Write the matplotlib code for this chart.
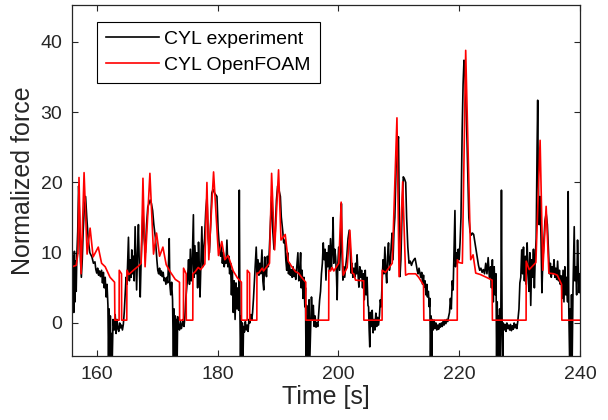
import matplotlib
matplotlib.use("Agg")
import matplotlib.pyplot as plt

plt.rcParams['font.family'] = ['Liberation Sans', 'DejaVu Sans']

# OpenFOAM simulation (red) - breakpoints
sim_t = [155.9, 156.6, 156.9, 157.06, 157.4, 157.9, 158.4, 158.9, 159.4, 160.25,
         160.8, 161.4, 162.2, 162.95, 163.0, 163.7, 163.72, 164.1, 164.12, 164.97,
         165.0, 165.3, 166.2, 166.9, 167.35, 167.65, 168.0, 168.8, 169.4, 169.9,
         170.4, 170.95, 171.5, 172.15, 173.0, 173.7, 173.72, 174.35, 174.37, 174.8,
         174.82, 175.9, 175.92, 176.3, 176.8, 177.2, 177.9, 178.24, 178.55, 179.34,
         180.15, 180.7, 181.2, 181.75, 182.6, 183.3, 183.95, 183.97, 184.9, 184.92,
         185.3, 185.32, 186.5, 186.52, 186.8, 187.4, 187.6, 188.6, 188.95, 189.45,
         190.1, 190.5, 191.2, 191.7, 192.3, 192.9, 193.4, 194.0, 194.6, 194.62,
         198.4, 198.42, 198.7, 198.97, 199.24, 200.07, 200.46, 200.8, 201.46, 201.9,
         202.3, 202.55, 202.84, 204.2, 204.22, 207.24, 207.26, 207.8, 208.92, 209.7,
         210.05, 210.65, 211.13, 211.6, 212.8, 213.3, 214.1, 214.15, 219.68, 219.7,
         219.97, 220.53, 221.08, 221.91, 222.3, 222.74, 223.5, 224.5, 225.45, 225.5,
         231.08, 231.1, 231.6, 232.7, 233.4, 233.85, 234.4, 234.85, 235.7, 236.25,
         236.95, 237.0, 240.0]
sim_f = [8.0, 8.2, 10.0, 20.7, 7.0, 21.4, 9.8, 13.5, 9.4, 10.8,
         8.5, 8.0, 6.5, 5.8, 0.4, 0.4, 7.5, 7.0, 0.4, 0.4,
         7.5, 6.9, 7.6, 8.1, 8.5, 20.6, 8.0, 21.3, 9.8, 12.8,
         9.5, 10.8, 8.3, 7.3, 6.2, 5.8, 0.4, 0.4, 7.8, 7.0,
         0.4, 0.4, 7.0, 7.3, 7.9, 7.6, 8.4, 20.0, 9.0, 21.5,
         9.6, 11.6, 9.0, 9.6, 7.4, 6.4, 5.8, 0.4, 0.4, 7.5,
         7.1, 0.4, 0.4, 7.1, 7.1, 7.8, 7.4, 8.5, 21.3, 10.4,
         21.8, 11.8, 12.6, 8.8, 8.0, 7.3, 7.1, 6.4, 5.8, 0.4,
         0.4, 7.5, 7.4, 7.9, 7.4, 8.5, 17.2, 6.8, 7.9, 13.2,
         7.1, 7.0, 6.1, 6.0, 0.4, 0.4, 7.5, 7.2, 8.5, 29.2,
         6.6, 20.1, 6.8, 7.0, 7.0, 6.5, 5.4, 0.4, 0.4, 9.0,
         8.6, 8.5, 38.8, 9.0, 9.7, 7.1, 6.9, 6.5, 6.1, 0.4,
         0.4, 8.8, 7.6, 8.6, 26.0, 7.5, 16.6, 7.1, 7.0, 6.8,
         5.5, 0.4, 0.4]

# experiment (black) - hand-read samples of the noisy trace
exp_t = [155.9, 156.0, 156.1, 156.2, 156.3, 156.4, 156.5, 156.6, 156.7, 156.85,
         157.0, 157.15, 157.3, 157.45, 157.6, 157.75, 157.95, 158.15, 158.35, 158.6,
         158.85, 159.2, 159.45, 159.7, 159.85, 160.0, 160.15, 160.3, 160.45, 160.6,
         160.8, 160.95, 161.1, 161.25, 161.4, 161.55, 161.7, 161.85, 161.95, 162.05,
         162.15, 162.25, 162.35, 162.45, 162.55, 162.7, 162.9, 163.05, 163.2, 163.35,
         163.5, 163.65, 163.8, 163.95, 164.1, 164.25, 164.4, 164.55, 164.7, 164.85,
         165.0, 165.12, 165.25, 165.4, 165.55, 165.7, 165.8, 165.95, 166.1, 166.2,
         166.35, 166.5, 166.6, 166.75, 166.9, 167.05, 167.2, 167.35, 167.5, 167.65,
         167.85, 168.05, 168.25, 168.45, 168.65, 168.85, 169.05, 169.25, 169.45, 169.7,
         169.95, 170.1, 170.25, 170.4, 170.55, 170.7, 170.85, 171.0, 171.15, 171.3,
         171.45, 171.6, 171.75, 171.9, 172.0, 172.1, 172.25, 172.4, 172.55, 172.7,
         172.8, 172.9, 173.0, 173.1, 173.2, 173.3, 173.4, 173.55, 173.7, 173.85,
         174.0, 174.15, 174.3, 174.45, 174.6, 174.75, 174.9, 175.05, 175.2, 175.35,
         175.5, 175.65, 175.8, 176.0, 176.1, 176.25, 176.4, 176.55, 176.7, 176.85,
         177.0, 177.1, 177.25, 177.4, 177.55, 177.7, 177.85, 178.05, 178.25, 178.45,
         178.65, 178.85, 179.05, 179.25, 179.5, 179.9, 180.1, 180.3, 180.5, 180.65,
         180.8, 180.95, 181.1, 181.25, 181.4, 181.55, 181.7, 181.85, 182.0, 182.15,
         182.3, 182.45, 182.6, 182.75, 182.9, 183.05, 183.2, 183.35, 183.5, 183.6,
         183.7, 183.8, 183.9, 184.0, 184.1, 184.2, 184.3, 184.45, 184.6, 184.75,
         184.9, 185.05, 185.2, 185.35, 185.5, 185.65, 185.8, 185.95, 186.1, 186.25,
         186.4, 186.55, 186.7, 186.85, 187.0, 187.15, 187.35, 187.5, 187.65, 187.8,
         187.95, 188.1, 188.25, 188.4, 188.55, 188.75, 188.95, 189.15, 189.35, 189.55,
         189.75, 189.95, 190.15, 190.4, 190.55, 190.8, 190.95, 191.15, 191.3, 191.45,
         191.6, 191.75, 191.9, 192.05, 192.2, 192.35, 192.5, 192.65, 192.8, 192.95,
         193.1, 193.3, 193.45, 193.6, 193.75, 193.85, 194.0, 194.15, 194.3, 194.45,
         194.55, 194.65, 194.75, 194.85, 194.95, 195.05, 195.15, 195.25, 195.4, 195.55,
         195.7, 195.85, 196.0, 196.15, 196.3, 196.45, 196.6, 196.75, 196.9, 197.05,
         197.2, 197.35, 197.5, 197.65, 197.8, 197.95, 198.1, 198.25, 198.4, 198.55,
         198.7, 198.85, 199.0, 199.13, 199.25, 199.4, 199.55, 199.7, 199.8, 199.9,
         200.05, 200.2, 200.4, 200.5, 200.6, 200.75, 200.9, 201.05, 201.2, 201.4,
         201.6, 201.8, 201.95, 202.1, 202.25, 202.4, 202.55, 202.7, 202.85, 203.0,
         203.1, 203.25, 203.4, 203.55, 203.7, 203.85, 204.0, 204.15, 204.3, 204.45,
         204.6, 204.75, 204.9, 205.0, 205.1, 205.2, 205.3, 205.45, 205.6, 205.75,
         205.9, 206.05, 206.2, 206.35, 206.5, 206.65, 206.8, 206.95, 207.1, 207.25,
         207.4, 207.55, 207.7, 207.85, 208.0, 208.15, 208.3, 208.45, 208.6, 208.75,
         208.9, 209.05, 209.2, 209.35, 209.55, 209.75, 209.95, 210.1, 210.2, 210.35,
         210.55, 210.75, 210.95, 211.15, 211.3, 211.5, 211.7, 211.9, 212.1, 212.3,
         212.5, 212.7, 212.9, 213.05, 213.2, 213.35, 213.5, 213.65, 213.8, 213.95,
         214.1, 214.2, 214.35, 214.5, 214.65, 214.75, 214.9, 215.05, 215.15, 215.25,
         215.35, 215.45, 215.55, 215.7, 215.85, 216.0, 216.15, 216.3, 216.45, 216.6,
         216.75, 216.9, 217.05, 217.2, 217.35, 217.5, 217.65, 217.8, 217.95, 218.1,
         218.25, 218.4, 218.55, 218.7, 218.85, 219.0, 219.15, 219.3, 219.4, 219.55,
         219.7, 219.85, 220.0, 220.15, 220.3, 220.5, 220.65, 220.8, 220.95, 221.1,
         221.3, 221.45, 221.6, 221.8, 222.0, 222.2, 222.4, 222.6, 222.8, 223.0,
         223.2, 223.4, 223.6, 223.8, 224.0, 224.2, 224.4, 224.6, 224.8, 225.0,
         225.2, 225.35, 225.5, 225.65, 225.8, 225.95, 226.1, 226.2, 226.3, 226.4,
         226.5, 226.6, 226.7, 226.8, 226.9, 227.0, 227.1, 227.2, 227.3, 227.45,
         227.6, 227.75, 227.9, 228.05, 228.2, 228.35, 228.5, 228.65, 228.8, 228.95,
         229.1, 229.25, 229.4, 229.55, 229.7, 229.9, 230.05, 230.2, 230.35, 230.5,
         230.65, 230.8, 230.95, 231.1, 231.25, 231.4, 231.55, 231.7, 231.85, 232.0,
         232.15, 232.3, 232.45, 232.6, 232.75, 232.9, 233.0, 233.1, 233.25, 233.4,
         233.55, 233.7, 233.85, 234.0, 234.2, 234.4, 234.6, 234.8, 234.95, 235.1,
         235.25, 235.4, 235.55, 235.7, 235.85, 236.0, 236.15, 236.3, 236.45, 236.6,
         236.75, 236.9, 237.05, 237.2, 237.35, 237.5, 237.65, 237.8, 237.95, 238.05,
         238.15, 238.3, 238.4, 238.5, 238.6, 238.7, 238.85, 238.95, 239.05, 239.15,
         239.3, 239.45, 239.6, 239.75, 239.87, 240.0]
exp_f = [6.0, 2.0, 9.5, 1.5, 10.2, 3.0, 8.8, 4.5, 9.5, 13.0,
         19.5, 15.0, 9.0, 6.5, 9.0, 13.0, 16.5, 18.0, 15.0, 11.8,
         10.0, 9.4, 8.5, 8.7, 7.6, 7.1, 7.8, 6.8, 7.4, 6.6,
         7.5, 5.7, 7.2, 5.0, 6.5, 3.7, 5.5, 2.5, -6, 2.0,
         -6, 1.0, -6, -1.5, -6, 0.5, -1.0, 1.2, -1.5, 0.5,
         -0.8, -1.2, 0.0, -0.7, -0.3, -1.0, -0.2, 1.5, 4.0, 6.5,
         5.5, 8.5, 12.2, 6.0, 9.0, 6.5, 10.4, 7.0, 9.5, 6.0,
         13.7, 8.0, 4.7, 10.0, 14.0, 8.0, 3.7, 9.0, 12.5, 16.0,
         12.0, 10.0, 14.0, 16.5, 17.0, 17.5, 17.0, 16.0, 14.0, 12.2,
         9.0, 7.5, 7.0, 7.8, 6.8, 7.4, 6.6, 7.2, 6.0, 6.4,
         5.5, 6.5, 5.7, 9.0, 12.0, 5.5, 4.0, 5.8, 3.3, -6,
         2.0, -6, 1.0, -6, 0.5, -6, 0.9, -0.5, -1.0, 0.3,
         -0.8, -0.3, 0.5, -0.5, 1.0, 3.5, 5.0, 6.6, 9.0, 5.5,
         10.5, 6.0, 8.5, 15.4, 6.5, 11.0, 7.0, 10.0, 5.0, 11.5,
         7.5, 3.7, 9.0, 13.7, 8.0, 10.5, 12.0, 16.0, 18.0, 12.0,
         10.0, 14.0, 18.5, 19.0, 18.5, 18.0, 13.2, 10.8, 9.5, 11.0,
         8.5, 10.0, 8.0, 9.0, 8.5, 11.8, 8.0, 9.5, 7.0, 8.5,
         4.0, 7.5, 1.5, 6.0, 0.5, 5.7, 2.0, 5.0, 1.8, 18.9,
         2.0, -6, 1.0, -6, 0.0, -6, -0.5, -1.3, 0.2, -1.0,
         -0.3, -1.2, 0.5, 0.0, 1.2, 0.4, 1.5, 3.5, 6.0, 8.5,
         10.8, 7.0, 9.0, 6.8, 8.5, 7.0, 10.4, 6.0, 4.7, 9.4,
         7.5, 6.6, 9.5, 8.0, 10.0, 14.0, 18.0, 13.0, 10.5, 13.0,
         17.5, 19.5, 19.0, 18.0, 15.1, 13.0, 11.4, 11.8, 9.0, 7.5,
         10.0, 7.0, 8.5, 6.8, 7.6, 6.5, 8.0, 6.6, 7.5, 6.2,
         7.8, 10.0, 6.0, 7.0, 10.0, 5.0, 7.5, 3.5, 6.5, 2.3,
         5.0, -6, 2.5, -6, 1.0, -6, 3.3, -6, -0.9, 3.7,
         0.5, 2.5, -0.5, 1.0, -0.6, 0.0, -0.5, 1.5, 3.3, 4.5,
         7.0, 8.5, 11.4, 9.0, 10.5, 6.1, 10.0, 8.0, 11.0, 7.5,
         12.0, 8.0, 10.5, 15.0, 8.5, 10.5, 9.4, 6.5, 3.3, 8.0,
         10.8, 7.5, 12.0, 17.0, 10.0, 6.1, 8.0, 6.5, 8.0, 9.5,
         12.0, 13.2, 11.0, 7.1, 8.5, 6.5, 7.8, 6.5, 8.5, 7.0,
         9.7, 7.0, 5.1, 8.0, 6.5, 7.5, 5.0, 7.0, 3.3, 7.5,
         4.0, 6.5, 2.5, 2.3, -1.0, -3.4, 1.5, -0.5, 1.8, -1.4,
         0.5, -1.0, 1.4, -0.5, 0.8, -0.3, 1.0, 3.3, 2.3, 6.0,
         9.0, 7.0, 10.8, 7.5, 5.7, 9.5, 11.4, 7.5, 8.5, 11.0,
         12.8, 9.0, 13.0, 15.0, 22.0, 25.0, 26.5, 14.0, 6.6, 9.0,
         16.0, 20.8, 20.5, 20.0, 15.0, 10.8, 8.5, 8.8, 8.2, 8.7,
         9.0, 9.2, 8.3, 7.5, 7.0, 7.8, 7.1, 6.5, 7.2, 5.5,
         6.8, 5.1, 6.0, 4.0, 5.5, 3.7, 4.5, 2.3, 3.5, -6,
         1.0, -6, 0.5, -1.0, 0.4, -0.8, 0.0, -1.0, -0.3, -0.9,
         -0.1, -0.6, 0.0, -0.5, 0.2, -0.3, 0.4, -0.1, 0.5, 0.2,
         0.9, 1.5, 3.5, 2.0, 6.0, 4.7, 10.4, 16.0, 8.0, 10.0,
         8.5, 10.5, 9.0, 11.5, 15.0, 27.5, 34.0, 37.4, 36.0, 32.0,
         26.0, 20.8, 15.0, 13.0, 12.5, 12.8, 12.6, 11.5, 10.5, 9.4,
         8.2, 7.5, 7.8, 7.2, 7.6, 7.0, 8.5, 7.0, 9.3, 6.5,
         8.0, 5.0, 9.0, 3.0, 8.0, 4.0, 7.0, -6, 3.0, -6,
         1.0, -6, 2.0, -6, 1.0, 18.9, 1.0, -6, 0.0, -1.0,
         -0.2, -1.2, 0.0, -0.8, -0.3, -1.0, -0.2, -1.1, -0.4, -0.9,
         0.0, -0.7, -0.2, -0.8, 0.2, 2.0, 5.7, 6.5, 10.4, 7.0,
         10.8, 6.0, 9.5, 5.5, 11.4, 7.5, 4.5, 10.0, 2.5, 9.0,
         6.5, 10.5, 5.0, 9.5, 12.0, 25.0, 31.7, 20.0, 14.0, 18.0,
         12.2, 4.3, 9.0, 11.0, 14.5, 15.6, 14.0, 10.0, 7.0, 8.5,
         6.5, 8.0, 7.0, 9.0, 6.5, 7.8, 6.2, 8.8, 6.0, 7.5,
         5.5, 6.7, 3.5, 7.5, 3.0, 8.0, 4.0, 6.5, 3.0, 18.7,
         2.0, -6, 2.0, -6, 4.0, -6, 5.0, 9.0, 13.7, 6.0,
         8.0, 4.0, 11.8, 6.5, 4.3, 7.0]

x_ticks = [160, 180, 200, 220, 240]
y_ticks = [0, 10, 20, 30, 40]

fig = plt.figure(figsize=(6.08, 4.2), dpi=100)
ax = fig.add_axes([0.1184, 0.1524, 0.8355, 0.8364])

ax.plot(exp_t, exp_f, color='black', lw=1.2, label='CYL experiment')
ax.plot(sim_t, sim_f, color='#ff0000', lw=1.2, label='CYL OpenFOAM')

ax.set_xlim(155.9, 240)
ax.set_ylim(-4.7, 45.3)
ax.set_xticks(x_ticks)
ax.set_yticks(y_ticks)
ax.tick_params(direction='in', top=True, right=True, length=4, width=0.8,
               labelsize=14, pad=7, colors='#262626')
for s in ax.spines.values():
    s.set_color('#262626')
    s.set_linewidth(0.9)

ax.set_xlabel('Time [s]', fontsize=18, color='#262626', labelpad=2)
ax.set_ylabel('Normalized force', fontsize=18, color='#262626', labelpad=4)

leg = ax.legend(loc='upper left', bbox_to_anchor=(0.05, 0.952), borderaxespad=0,
                fontsize=14, handlelength=2.7, handletextpad=0.3, borderpad=0.45,
                labelspacing=0.45, fancybox=False, framealpha=1, edgecolor='black')
leg.get_frame().set_linewidth(0.8)

fig.savefig('out.png', dpi=100)
